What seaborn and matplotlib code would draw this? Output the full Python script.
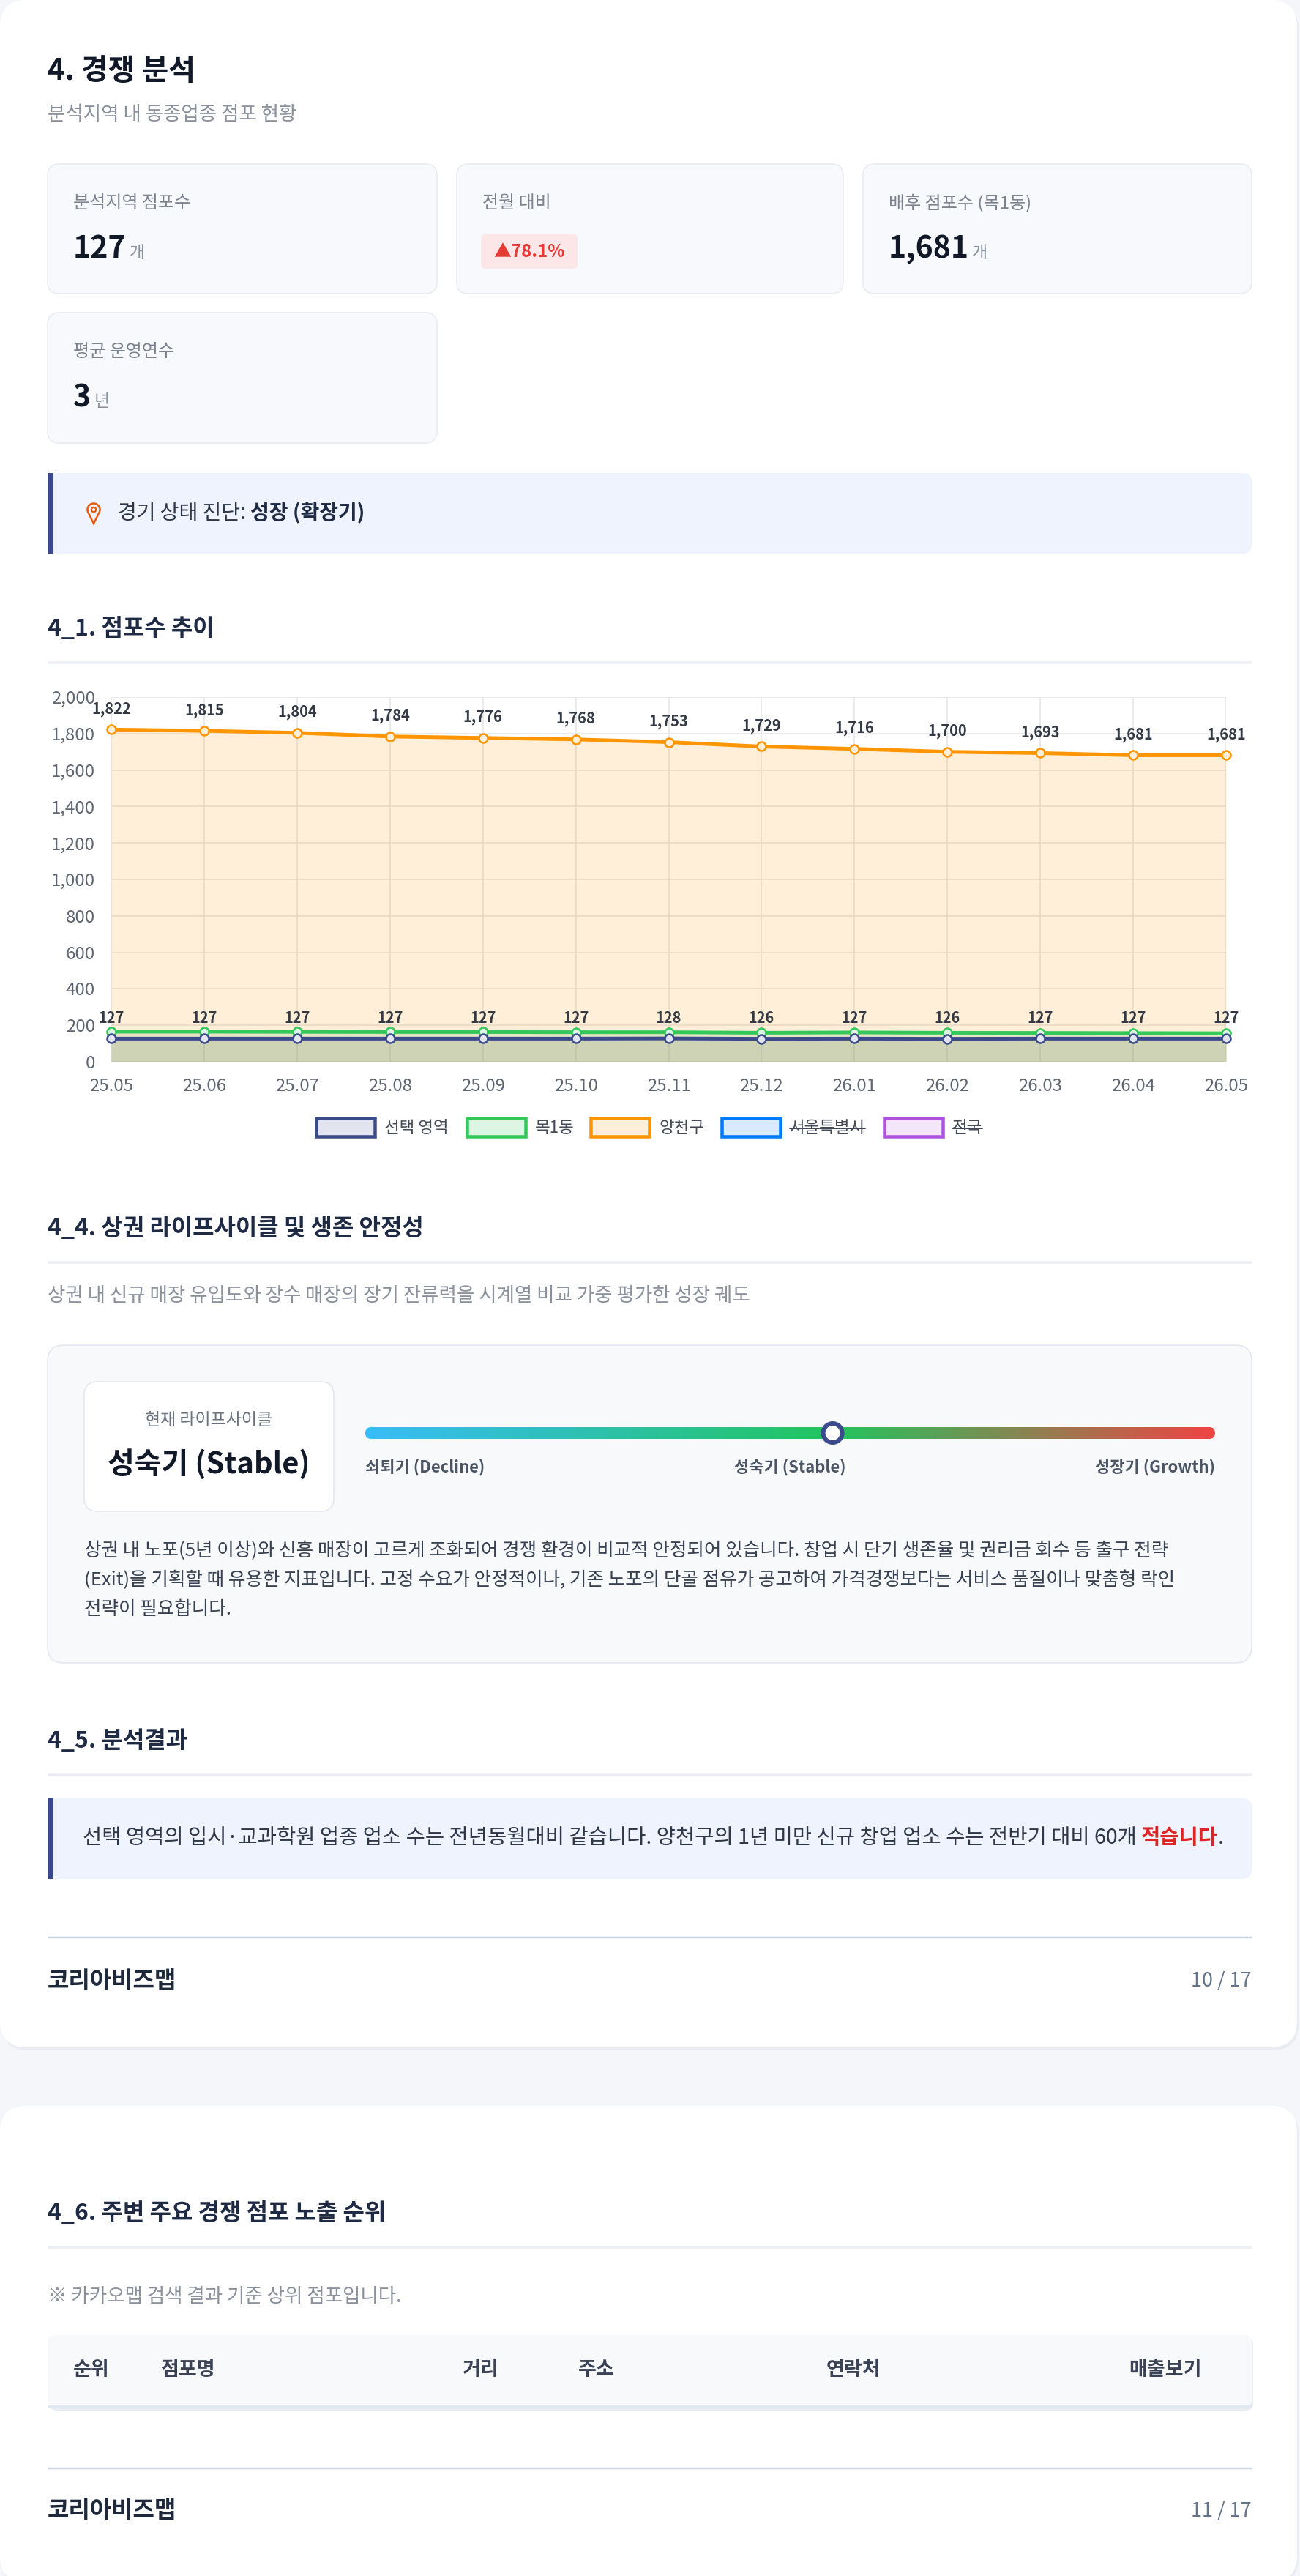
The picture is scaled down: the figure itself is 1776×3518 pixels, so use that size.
import numpy as np
import pandas as pd
import matplotlib
matplotlib.use('Agg')
import matplotlib.pyplot as plt
import seaborn as sns
from matplotlib.patches import FancyBboxPatch, Rectangle, Circle, PathPatch
from matplotlib.path import Path
from matplotlib.colors import LinearSegmentedColormap
from matplotlib.ticker import FuncFormatter

# 데이터
months = ['25.05', '25.06', '25.07', '25.08', '25.09', '25.10', '25.11',
          '25.12', '26.01', '26.02', '26.03', '26.04', '26.05']
yangcheon = [1822, 1815, 1804, 1784, 1776, 1768, 1753, 1729, 1716, 1700, 1693, 1681, 1681]
mok1 = [165, 165, 164, 163, 163, 162, 162, 159, 161, 159, 158, 157, 156]
selected = [127, 127, 127, 127, 127, 127, 128, 126, 127, 126, 127, 127, 127]

legend_names = ['선택 영역', '목1동', '양천구', '서울특별시', '전국']
legend_hidden = [False, False, False, True, True]
legend_edge = ['#3b4a8a', '#34c759', '#ff9500', '#007aff', '#af52de']
legend_face = ['#e2e5f0', '#ddf6e3', '#ffefd9', '#d9eaff', '#f3e5fa']

card_labels = ['분석지역 점포수', '전월 대비', '배후 점포수 (목1동)', '평균 운영연수']
card_values = ['127', '▲78.1%', '1,681', '3']
card_units = ['개', '', '개', '년']

stage_names = ['쇠퇴기 (Decline)', '성숙기 (Stable)', '성장기 (Growth)']
stage_pos = 0.55

paragraph = ['상권 내 노포(5년 이상)와 신흥 매장이 고르게 조화되어 경쟁 환경이 비교적 안정되어 있습니다. 창업 시 단기 생존율 및 권리금 회수 등 출구 전략',
             '(Exit)을 기획할 때 유용한 지표입니다. 고정 수요가 안정적이나, 기존 노포의 단골 점유가 공고하여 가격경쟁보다는 서비스 품질이나 맞춤형 락인',
             '전략이 필요합니다.']

table_cols = ['순위', '점포명', '거리', '주소', '연락처', '매출보기']
table_col_x = [100, 219, 631, 790, 1129, 1542]

W, H = 1776, 3518
sns.set_theme(style='white')
plt.rcParams['font.family'] = ['Noto Sans CJK KR', 'DejaVu Sans']

fig = plt.figure(figsize=(W / 100, H / 100), dpi=100)
fig.patch.set_facecolor('#f4f6fa')
bg = fig.add_axes([0, 0, 1, 1])
bg.set_xlim(0, W)
bg.set_ylim(H, 0)
bg.axis('off')
renderer = fig.canvas.get_renderer()


def pt(v):
    return v * 0.72


def box(x0, y0, x1, y1, fc, ec='none', r=16, lw=0, z=1):
    p = FancyBboxPatch((x0, y0), x1 - x0, y1 - y0,
                       boxstyle=f'round,pad=0,rounding_size={r}',
                       fc=fc, ec=ec, lw=lw, zorder=z)
    bg.add_patch(p)
    return p


def txt(x, y, s, size, color='#333333', weight='normal', ha='left', va='center', z=5):
    return bg.text(x, y, s, fontsize=pt(size), color=color, fontweight=weight,
                   ha=ha, va=va, zorder=z)


def runs(x, y, parts, va='center', gap=0):
    for s, size, color, weight in parts:
        t = txt(x, y, s, size, color, weight, va=va)
        x = t.get_window_extent(renderer).x1 + gap
    return x


def hline(y, color='#eceef3', lw=3.5, x0=65, x1=1710):
    bg.plot([x0, x1], [y, y], color=color, lw=pt(lw), solid_capstyle='butt', zorder=2)


def section(y, title):
    txt(65, y, title, 32, '#1f2a44', 'bold')
    hline(y + 46)


# 카드 배경
box(2, 4, 1774, 2800, '#e9ecf2', r=36, z=0)
box(0, 0, 1772, 2796, 'white', r=36, z=0.5)
box(2, 2880, 1774, 3530, '#e9ecf2', r=36, z=0)
box(0, 2876, 1772, 3526, 'white', r=36, z=0.5)

# 헤더
txt(65, 97, '4. 경쟁 분석', 40, '#111827', 'bold')
txt(65, 156, '분석지역 내 동종업종 점포 현황', 26.5, '#8a909c')

cards = [(65, 224, 597, 401), (624, 224, 1152, 401), (1179, 224, 1710, 401), (65, 427, 597, 605)]
for (x0, y0, x1, y1), lab, val, unit in zip(cards, card_labels, card_values, card_units):
    box(x0, y0, x1, y1, '#f8f9fc', '#e8eaf0', r=16, lw=pt(1.5))
    txt(x0 + 35, y0 + 53, lab, 24, '#7b818d')
    if val.startswith('▲'):
        box(x0 + 33, y0 + 96, x0 + 165, y0 + 143, '#fde6e8', r=6, z=2)
        txt(x0 + 99, y0 + 120, val, 24, '#e53935', 'bold', ha='center')
    else:
        runs(x0 + 35, y0 + 128, [(val, 41, '#111827', 'bold'), (unit, 23, '#8a909c', 'normal')],
             va='baseline', gap=4)

# 경기 상태 진단
box(65, 646, 1710, 756, '#eef3fd', r=12)
bg.add_patch(Rectangle((65, 646), 8, 110, fc='#3b4a8a', ec='none', zorder=2))
cx, cy, r, d = 128, 696, 8.5, 19
phi = np.arccos(r / d)
a = np.linspace(phi, 2 * np.pi - phi, 60)
verts = list(zip(cx + r * np.sin(a), cy + r * np.cos(a))) + [(cx, cy + d), (cx + r * np.sin(phi), cy + r * np.cos(phi))]
bg.add_patch(PathPatch(Path(verts), fc='none', ec='#e8590c', lw=pt(2.5), zorder=3))
bg.add_patch(Circle((cx, cy), 3.2, fc='none', ec='#e8590c', lw=pt(2.2), zorder=3))
runs(161, 701, [('경기 상태 진단: ', 28, '#2d3748', 'normal'), ('성장 (확장기)', 28, '#1f2a44', 'bold')])

# 4_1 점포수 추이
section(859, '4_1. 점포수 추이')

ax = fig.add_axes([152 / W, 1 - 1450 / H, (1675 - 152) / W, (1450 - 952) / H])
ax.set_facecolor('none')
xs = np.arange(len(months))
df = pd.DataFrame({
    'idx': np.tile(xs, 3),
    'value': selected + mok1 + yangcheon,
    'series': np.repeat(legend_names[:3], len(months)),
})
for name, ec, fc in zip(legend_names[:3], legend_edge[:3], legend_face[:3]):
    sub = df[df['series'] == name]
    ax.fill_between(sub['idx'], 0, sub['value'], color=ec, alpha=0.15, lw=0, zorder=1)
for name, ec, fc in list(zip(legend_names[:3], legend_edge[:3], legend_face[:3]))[::-1]:
    sub = df[df['series'] == name]
    sns.lineplot(data=sub, x='idx', y='value', ax=ax, color=ec, lw=pt(5), marker='o',
                 ms=pt(12), mfc=fc, mec=ec, mew=pt(2.5), clip_on=False, zorder=3, legend=False)

for i, v in enumerate(yangcheon):
    ax.annotate(f'{v:,}', (i, v), xytext=(0, pt(28)), textcoords='offset points', ha='center',
                va='center', fontsize=pt(20), fontweight='bold', color='#333a45', annotation_clip=False)
for i, v in enumerate(selected):
    ax.annotate(f'{v:,}', (i, v), xytext=(0, pt(28)), textcoords='offset points', ha='center',
                va='center', fontsize=pt(20), fontweight='bold', color='#333a45', annotation_clip=False)

ax.set_xlim(0, len(months) - 1)
ax.set_ylim(0, 2000)
ax.set_xticks(xs)
ax.set_xticklabels(months)
ax.set_yticks(range(0, 2001, 200))
ax.yaxis.set_major_formatter(FuncFormatter(lambda v, p: f'{v:,.0f}'))
ax.grid(True, color='#e4e4e4', lw=pt(1.5))
ax.set_axisbelow(True)
for s in ax.spines.values():
    s.set_visible(False)
ax.tick_params(length=pt(16), width=pt(1.5), color='#e4e4e4', labelsize=pt(24),
               labelcolor='#5f6672', pad=pt(6))
ax.set_xlabel('')
ax.set_ylabel('')

# 범례
leg_x = [430, 636, 805, 984, 1206]
for lx, name, hid, ec, fc in zip(leg_x, legend_names, legend_hidden, legend_edge, legend_face):
    bg.add_patch(Rectangle((lx + 2, 1527), 80, 25, fc=fc, ec=ec, lw=pt(4.5), zorder=3))
    t = txt(lx + 95, 1540, name, 22.5, '#444b57')
    if hid:
        bb = t.get_window_extent(renderer)
        bg.plot([bb.x0, bb.x1], [1541, 1541], color='#444b57', lw=pt(2), zorder=6)

# 4_4 라이프사이클
section(1678, '4_4. 상권 라이프사이클 및 생존 안정성')
txt(65, 1769, '상권 내 신규 매장 유입도와 장수 매장의 장기 잔류력을 시계열 비교 가중 평가한 성장 궤도', 26.5, '#8a909c')

box(65, 1837, 1710, 2271, '#f8f9fb', '#e3e6ee', r=22, lw=pt(1.5))
box(115, 1887, 456, 2064, 'white', '#e3e6ee', r=18, lw=pt(1.5), z=2)
txt(285, 1939, '현재 라이프사이클', 23, '#6b7280', ha='center')
txt(285, 2000, '성숙기 (Stable)', 40, '#111827', 'bold', ha='center')

bx0, bx1, by0, by1 = 499, 1660, 1949, 1965
cmap = LinearSegmentedColormap.from_list('life', [(0, '#38bdf8'), (stage_pos, '#22c55e'), (1, '#ef4444')])
im = bg.imshow(np.linspace(0, 1, 400)[None, :], extent=(bx0, bx1, by1, by0), cmap=cmap,
               aspect='auto', zorder=3, interpolation='bilinear')
clip = box(bx0, by0, bx1, by1, 'none', r=8, z=3)
im.set_clip_path(clip)
bg.set_xlim(0, W)
bg.set_ylim(H, 0)
bg.add_patch(Circle((bx0 + stage_pos * (bx1 - bx0), 1957), 13, fc='white', ec='#3b4a8a', lw=pt(6), zorder=4))
txt(bx0, 2005, stage_names[0], 22, '#4b5563', 'bold')
txt((bx0 + bx1) / 2, 2005, stage_names[1], 22, '#4b5563', 'bold', ha='center')
txt(bx1, 2005, stage_names[2], 22, '#4b5563', 'bold', ha='right')
for k, line in enumerate(paragraph):
    txt(115, 2118 + 40 * k, line, 25.6, '#374151')

# 4_5 분석결과
section(2378, '4_5. 분석결과')
box(65, 2456, 1710, 2566, '#eef3fd', r=12)
bg.add_patch(Rectangle((65, 2456), 8, 110, fc='#3b4a8a', ec='none', zorder=2))
runs(113, 2510, [('선택 영역의 입시·교과학원 업종 업소 수는 전년동월대비 같습니다. 양천구의 1년 미만 신규 창업 업소 수는 전반기 대비 60개 ', 28.5, '#2d3748', 'normal'),
                 ('적습니다', 28.5, '#e02424', 'bold'), ('.', 28.5, '#2d3748', 'normal')])

hline(2646, '#cbd5e1', 2.5)
txt(65, 2706, '코리아비즈맵', 32, '#1e293b', 'bold')
txt(1710, 2706, '10 / 17', 27, '#64748b', ha='right')

# 4_6 노출 순위
section(3023, '4_6. 주변 주요 경쟁 점포 노출 순위')
txt(65, 3136, '※ 카카오맵 검색 결과 기준 상위 점포입니다.', 26.5, '#8a909c')
box(67, 3192, 1712, 3292, '#e9ecf2', r=10, z=1)
box(65, 3189, 1710, 3287, '#f8f9fb', r=10, z=1.5)
hline(3286, '#e2e8f0', 4)
for cx_, col in zip(table_col_x, table_cols):
    txt(cx_, 3236, col, 27, '#3a4256', 'bold')

hline(3371, '#cbd5e1', 2.5)
txt(65, 3429, '코리아비즈맵', 32, '#1e293b', 'bold')
txt(1710, 3429, '11 / 17', 27, '#64748b', ha='right')

fig.savefig('out.png', dpi=100, facecolor=fig.get_facecolor())
